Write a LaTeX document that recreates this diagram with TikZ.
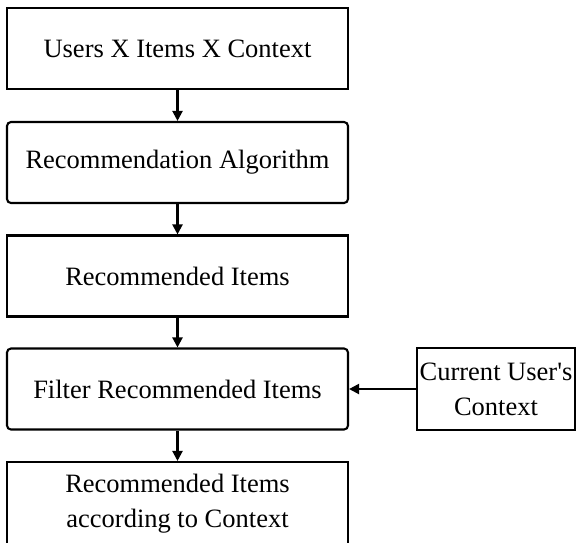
\documentclass[tikz,border=0pt]{standalone}
\usepackage{fontspec}
\setmainfont{Liberation Serif}
\usetikzlibrary{arrows.meta}
\tikzset{
  box/.style={draw, line width=2.1pt, inner sep=0pt, align=center,
    minimum width=341pt, minimum height=81pt,
    font=\fontsize{26.5}{35}\selectfont},
  roundbox/.style={box, rounded corners=4pt},
  sidebox/.style={box, minimum width=158pt, minimum height=82pt},
  arr/.style={line width=2.1pt, -{Triangle[length=10pt,width=10pt]}}
}
\begin{document}
\begin{tikzpicture}[x=1pt,y=-1pt]
  \useasboundingbox (0,0) rectangle (577,542);
  \clip (0,0) rectangle (577,542);
  \node[box]       (uic)  at (177.5,48.5)  {Users X Items X Context};
  \node[roundbox]  (alg)  at (177.5,162.5) {Recommendation Algorithm};
  \node[box]       (rec)  at (177.5,276)   {Recommended Items};
  \node[roundbox]  (filt) at (177.5,389)   {Filter Recommended Items};
  \node[box, minimum height=84pt] (out) at (177.5,504) {Recommended Items\\according to Context};
  \node[sidebox]   (ctx)  at (496,389)     {Current User\textquotesingle s\\Context};
  \draw[arr] (uic.south) -- (alg.north);
  \draw[arr] (alg.south) -- (rec.north);
  \draw[arr] (rec.south) -- (filt.north);
  \draw[arr] (filt.south) -- (out.north);
  \draw[arr] (ctx.west) -- (filt.east);
\end{tikzpicture}
\end{document}
